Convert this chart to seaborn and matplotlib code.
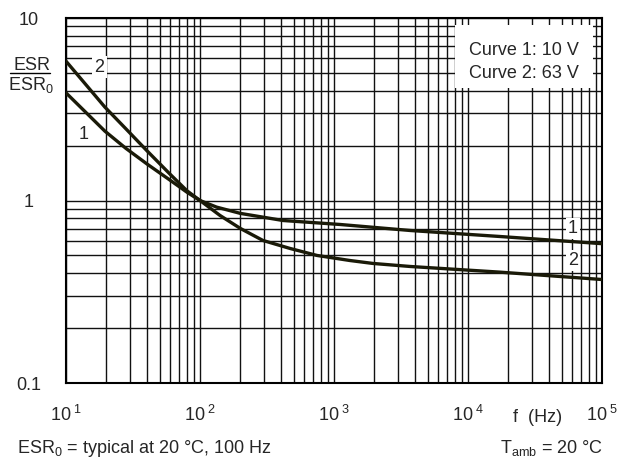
import numpy as np
import pandas as pd
import matplotlib
matplotlib.use("Agg")
import matplotlib.pyplot as plt
import matplotlib.ticker as mticker
from matplotlib.patches import Rectangle
import seaborn as sns

# curve 1: 10 V
freq_1 = [10, 19.5, 28, 40, 60, 80, 100, 133, 200, 416, 1110, 3700, 17300, 100000]
esr_1 = [3.89, 2.40, 1.93, 1.59, 1.29, 1.11, 1.0, 0.92, 0.85, 0.777, 0.739, 0.685, 0.635, 0.58]
# curve 2: 63 V
freq_2 = [10, 19.5, 28, 40, 60, 80, 100, 141, 200, 295, 470, 746, 1315, 1950, 3700, 17300, 100000]
esr_2 = [5.8, 3.25, 2.47, 1.88, 1.39, 1.13, 1.0, 0.828, 0.703, 0.604, 0.546, 0.50, 0.469,
         0.452, 0.435, 0.405, 0.369]

x_ticks = [10, 100, 1000, 10000, 100000]
x_labels = [r"$\mathregular{10^{\;1}}$", r"$\mathregular{10^{\;2}}$", r"$\mathregular{10^{\;3}}$",
            r"$\mathregular{10^{\;4}}$", r"$\mathregular{10^{\;5}}$"]
y_ticks = [0.1, 1, 10]
y_labels = ["0.1", "1", "10"]

df = pd.concat([
    pd.DataFrame({"f": freq_1, "esr": esr_1, "curve": "1"}),
    pd.DataFrame({"f": freq_2, "esr": esr_2, "curve": "2"}),
])

sns.set_style("white")
plt.rcParams["font.family"] = ["Liberation Sans", "DejaVu Sans"]
plt.rcParams["mathtext.fontset"] = "custom"
plt.rcParams["mathtext.rm"] = "Liberation Sans"
plt.rcParams["mathtext.default"] = "regular"

fs = 13

fig = plt.figure(figsize=(6.18, 4.61), dpi=100)
ax = fig.add_axes([66 / 618, 1 - 383 / 461, 536 / 618, 365 / 461])

line_col = "#1a1a08"
sns.lineplot(data=df, x="f", y="esr", hue="curve", palette=[line_col, line_col],
             linewidth=2.4, legend=False, ax=ax, zorder=3)

ax.set_xscale("log")
ax.set_yscale("log")
ax.set_xlim(10, 100000)
ax.set_ylim(0.1, 10)

subs = np.arange(2, 10)
ax.xaxis.set_minor_locator(mticker.LogLocator(base=10, subs=subs, numticks=20))
ax.yaxis.set_minor_locator(mticker.LogLocator(base=10, subs=subs, numticks=20))
ax.xaxis.set_minor_formatter(mticker.NullFormatter())
ax.yaxis.set_minor_formatter(mticker.NullFormatter())
ax.grid(True, which="both", color="#111111", linewidth=1.0)
ax.set_axisbelow(True)

ax.set_xticks(x_ticks)
ax.set_xticklabels(x_labels, fontsize=fs)
ax.set_yticks(y_ticks)
ax.set_yticklabels(y_labels, fontsize=fs, ha="center")
ax.tick_params(which="both", length=0)
ax.tick_params(axis="x", pad=16)
ax.tick_params(axis="y", pad=27)

for s in ax.spines.values():
    s.set_visible(True)
    s.set_color("black")
    s.set_linewidth(1.5)

ax.set_xlabel("f  (Hz)", fontsize=fs)
ax.xaxis.set_label_coords(0.879, -0.095)
ax.xaxis.label.set_va("center")
ax.set_ylabel("")

# legend box
ax.add_patch(Rectangle((0.726, 0.808), 0.257, 0.173, transform=ax.transAxes,
                       facecolor="white", edgecolor="none", zorder=2))
ax.text(0.957, 0.912, "Curve 1: 10 V", transform=ax.transAxes, ha="right",
        va="center", fontsize=fs, zorder=4)
ax.text(0.957, 0.849, "Curve 2: 63 V", transform=ax.transAxes, ha="right",
        va="center", fontsize=fs, zorder=4)

# curve labels
lab_box = dict(facecolor="white", edgecolor="none", pad=1.5)
ax.text(17.8, 5.38, "2", ha="center", va="center", fontsize=fs, bbox=lab_box, zorder=4)
ax.text(13.5, 2.30, "1", ha="center", va="center", fontsize=fs, bbox=lab_box, zorder=4)
ax.text(60800, 0.70, "1", ha="center", va="center", fontsize=fs, bbox=lab_box, zorder=4)
ax.text(60800, 0.469, "2", ha="center", va="center", fontsize=fs, bbox=lab_box, zorder=4)

# y label as fraction
fig.text(32 / 618, 1 - 66 / 461, "ESR", ha="center", va="center", fontsize=fs)
fig.add_artist(plt.Line2D([10 / 618, 50 / 618], [1 - 73 / 461, 1 - 73 / 461],
                          color="black", linewidth=1.0))
fig.text(31 / 618, 1 - 85 / 461, "ESR$_0$", ha="center", va="center", fontsize=fs)

# notes
fig.text(17 / 618, 1 - 448 / 461, "ESR$_0$ = typical at 20 °C, 100 Hz",
         ha="left", va="center", fontsize=fs)
fig.text(603 / 618, 1 - 448 / 461, "T$_{amb}$ = 20 °C",
         ha="right", va="center", fontsize=fs)

fig.savefig("out.png", dpi=100)
